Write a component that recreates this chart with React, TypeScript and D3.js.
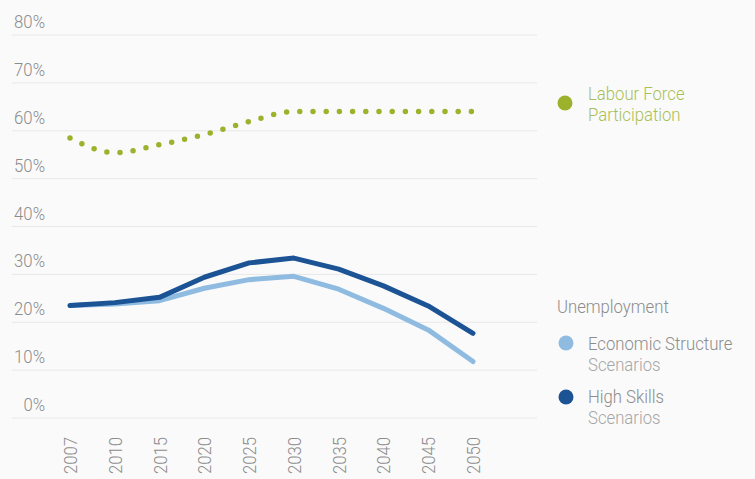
import * as d3 from 'd3'

const years = ['2007', '2010', '2015', '2020', '2025', '2030', '2035', '2040', '2045', '2050']
const participation = [58.5, 55.4, 57.1, 59.2, 61.9, 64.0, 64.0, 64.0, 64.0, 64.0]
const economicStructure = [23.5, 23.8, 24.5, 27.1, 28.9, 29.6, 26.9, 22.9, 18.4, 11.8]
const highSkills = [23.5, 24.1, 25.2, 29.4, 32.4, 33.4, 31.1, 27.6, 23.4, 17.7]
const yTicks = [0, 10, 20, 30, 40, 50, 60, 70, 80]

const W = 755
const H = 479
const FONT = "Roboto, 'Noto Sans', sans-serif"
const SX = 0.88

// condensed look: Roboto squeezed horizontally
const T = (p: { x: number, y: number, fill: string, anchor?: string, rotate?: number, children: any }) => (
  <text transform={`translate(${p.x},${p.y}) rotate(${p.rotate || 0}) scale(${SX},1)`}
    textAnchor={p.anchor || 'start'} fill={p.fill} fontSize={19} fontWeight={300}>{p.children}</text>
)

export default function App() {
  const x = d3.scalePoint<string>().domain(years).range([70, 473])
  const y = d3.scaleLinear().domain([0, 80]).range([418, 35])

  const line = d3.line<number>()
    .x((_, i) => x(years[i]) as number)
    .y(d => y(d))

  const curved = d3.line<number>()
    .x((_, i) => x(years[i]) as number)
    .y(d => y(d))
    .curve(d3.curveMonotoneX)

  return (
    <svg width={W} height={H} style={{ position: 'absolute', left: 0, top: 0, background: '#fafafa' }} fontFamily={FONT}>
      <rect width={W} height={H} fill="#fafafa" />
      {yTicks.map(t => (
        <g key={t}>
          <line x1={12} x2={537} y1={y(t)} y2={y(t)} stroke="#e8e8e8" strokeWidth={1} />
          <T x={45} y={y(t) - 7} anchor="end" fill="#8c8c8c">{t}%</T>
        </g>
      ))}
      {years.map(yr => (
        <T key={yr} x={(x(yr) as number) + 7} y={437} rotate={-90} anchor="end" fill="#8c8c8c">{yr}</T>
      ))}
      <path d={curved(participation) || ''} fill="none" stroke="#9cb22c" strokeWidth={5.5}
        strokeLinecap="round" strokeDasharray="0 13.2" />
      <path d={line(economicStructure) || ''} fill="none" stroke="#8fbbe1" strokeWidth={5}
        strokeLinecap="round" strokeLinejoin="round" />
      <path d={line(highSkills) || ''} fill="none" stroke="#1b5395" strokeWidth={5}
        strokeLinecap="round" strokeLinejoin="round" />

      <circle cx={565} cy={103} r={7.5} fill="#9cb22c" />
      <T x={588} y={100} fill="#a9bf57">Labour Force</T>
      <T x={588} y={121} fill="#a9bf57">Participation</T>

      <T x={557} y={313} fill="#8c8c8c">Unemployment</T>
      <circle cx={566} cy={343} r={7.5} fill="#8fbbe1" />
      <T x={588} y={350} fill="#8c8c8c">Economic Structure</T>
      <T x={588} y={371} fill="#a6a6a6">Scenarios</T>
      <circle cx={566} cy={397} r={7.5} fill="#1b5395" />
      <T x={588} y={403} fill="#8c8c8c">High Skills</T>
      <T x={588} y={424} fill="#a6a6a6">Scenarios</T>
    </svg>
  )
}
